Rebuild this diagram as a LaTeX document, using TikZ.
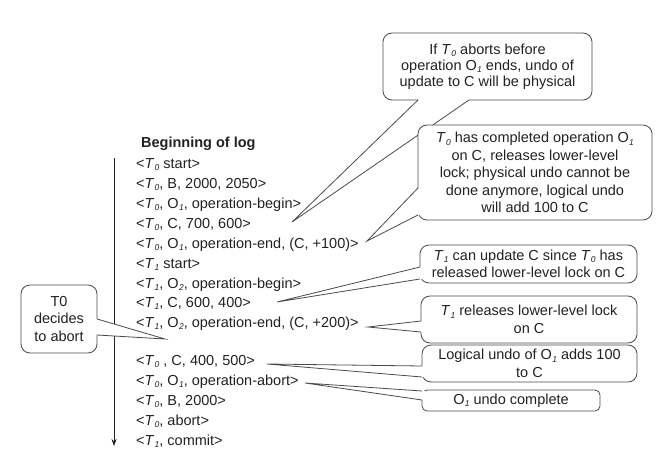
\documentclass[tikz,border=0pt]{standalone}
\usepackage{fontspec}
\setmainfont{Liberation Sans}
\usetikzlibrary{arrows.meta,calc}
\newcommand\smallsub[1]{\raisebox{-2.5pt}{\fontsize{8.5}{9}\selectfont\itshape #1}}
\newcommand\Tsub[1]{\textit{T}\kern0.3pt\smallsub{#1}}
\newcommand\Osub[1]{O\kern0.3pt\smallsub{#1}}
\newcommand\bubtail[4]{%
  \fill[white] (#1) -- (#3) -- (#2) -- ($(#2)+(#4)$) -- ($(#1)+(#4)$) -- cycle;
  \draw[tailline] (#1) -- (#3) -- (#2);}
\definecolor{ink}{HTML}{222222}
\definecolor{edge}{HTML}{4A4A4A}
\begin{document}
\begin{tikzpicture}[x=1pt,y=-1pt,
  logtext/.style={anchor=base west,inner sep=0pt,text=ink,font=\fontsize{14.5}{17.5}\selectfont},
  bubble/.style={draw=edge,line width=0.8pt,fill=white,rounded corners=9pt,inner sep=0pt,outer sep=0pt,
     align=center,text=ink,font=\fontsize{14.5}{17.5}\selectfont},
  tailline/.style={draw=edge,line width=0.8pt,line join=miter},
  timeline/.style={draw=ink,line width=0.8pt,-{Stealth[length=7pt,width=5pt]}}]
\useasboundingbox (0,0) rectangle (658,468);
\fill[white] (0,0) rectangle (658,468);

% log
\node[logtext,font=\bfseries\fontsize{14.5}{17.5}\selectfont] (head) at (141,147) {Beginning of log};
\node[logtext] (L1) at (136,168) {<\Tsub{0} start>};
\node[logtext] (L2) at (136,188) {<\Tsub{0}, B, 2000, 2050>};
\node[logtext] (L3) at (136,208) {<\Tsub{0}, \Osub{1}, operation-begin>};
\node[logtext] (L4) at (136,228) {<\Tsub{0}, C, 700, 600>};
\node[logtext] (L5) at (136,248) {<\Tsub{0}, \Osub{1}, operation-end, (C, +100)>};
\node[logtext] (L6) at (136,268) {<\Tsub{1} start>};
\node[logtext] (L7) at (136,288) {<\Tsub{1}, \Osub{2}, operation-begin>};
\node[logtext] (L8) at (136,307) {<\Tsub{1}, C, 600, 400>};
\node[logtext] (L9) at (136,327) {<\Tsub{1}, \Osub{2}, operation-end, (C, +200)>};
\node[logtext] (L10) at (136,365) {<\Tsub{0} , C, 400, 500>};
\node[logtext] (L11) at (136,385) {<\Tsub{0}, \Osub{1}, operation-abort>};
\node[logtext] (L12) at (136,405) {<\Tsub{0}, B, 2000>};
\node[logtext] (L13) at (136,425) {<\Tsub{0}, abort>};
\node[logtext] (L14) at (136,445) {<\Tsub{1}, commit>};

\coordinate (a0) at (114,158);
\coordinate (a1) at (114,446);
\draw[timeline] (a0) -- (a1);

% tips
\coordinate (t1) at (292,222);
\coordinate (t2) at (367,241);
\coordinate (t3) at (277,302);
\coordinate (t4) at (368,327);
\coordinate (t5) at (267,364);
\coordinate (t6) at (305,383);
\coordinate (t7) at (165,339);

% bubbles
\node[bubble,font=\fontsize{14.5}{16}\selectfont,minimum width=209pt,minimum height=67pt] (b1) at (487.5,66.5)
  {If \Tsub{0} aborts before\\operation \Osub{1} ends, undo of\\update to C will be physical};
\bubtail{[xshift=35pt]b1.south west}{[xshift=86pt]b1.south west}{t1}{0,-3}

\node[bubble,minimum width=234pt,minimum height=95pt] (b2) at (535,172.5)
  {\Tsub{0} has completed operation \Osub{1}\\on C, releases lower-level\\lock; physical undo cannot be\\done anymore, logical undo\\will add 100 to C};
\bubtail{[yshift=32pt]b2.south west}{[yshift=5pt]b2.south west}{t2}{3,0}

\node[bubble,minimum width=217pt,minimum height=38pt] (b3) at (528.5,264)
  {\Tsub{1} can update C since \Tsub{0} has\\released lower-level lock on C};
\bubtail{[yshift=16pt]b3.south west}{[yshift=4pt]b3.south west}{t3}{3,0}

\node[bubble,minimum width=216pt,minimum height=47pt] (b4) at (529,319.5)
  {\Tsub{1} releases lower-level lock\\on C};
\bubtail{[yshift=22pt]b4.south west}{[yshift=11pt]b4.south west}{t4}{3,0}

\node[bubble,minimum width=215pt,minimum height=37pt] (b5) at (529.5,363.5)
  {Logical undo of \Osub{1} adds 100\\to C};
\bubtail{[yshift=16pt]b5.south west}{[yshift=5pt]b5.south west}{t5}{3,0}

\node[bubble,rounded corners=5pt,minimum width=178pt,minimum height=21pt] (b6) at (511,400.5)
  {\Osub{1} undo complete};
\bubtail{[yshift=-1pt]b6.north west}{[yshift=-10pt]b6.north west}{t6}{3,0}

\node[bubble,minimum width=76pt,minimum height=68pt] (b7) at (59,319)
  {T0\\decides\\to abort};
\bubtail{[yshift=34pt]b7.south east}{[yshift=18pt]b7.south east}{t7}{-3,0}
\end{tikzpicture}
\end{document}
